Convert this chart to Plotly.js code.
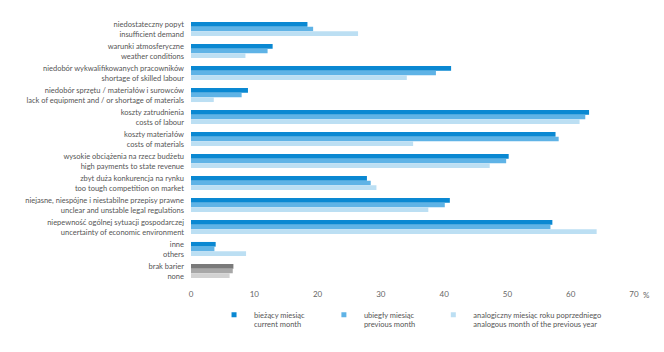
<!DOCTYPE html>
<html><head><meta charset="utf-8">
<script src="https://cdn.plot.ly/plotly-3.0.1.min.js"></script>
<style>html,body{margin:0;padding:0;background:#fff;}#chart{width:664px;height:352px;}</style>
</head><body><div id="chart"></div>
<script>
const categories = [
  "niedostateczny popyt<br>insufficient demand",
  "warunki atmosferyczne<br>weather conditions",
  "niedobór wykwalifikowanych pracowników<br>shortage of skilled labour",
  "niedobór sprzętu / materiałów i surowców<br>lack of equipment and / or shortage of materials",
  "koszty zatrudnienia<br>costs of labour",
  "koszty materiałów<br>costs of materials",
  "wysokie obciążenia na rzecz budżetu<br>high payments to state revenue",
  "zbyt duża konkurencja na rynku<br>too tough competition on market",
  "niejasne, niespójne i niestabilne przepisy prawne<br>unclear and unstable legal regulations",
  "niepewność ogólnej sytuacji gospodarczej<br>uncertainty of economic environment",
  "inne<br>others",
  "brak barier<br>none"
];
const currentMonth  = [18.4, 12.9, 41.1, 9.0, 62.9, 57.6, 50.2, 27.8, 40.9, 57.1, 3.9, 6.7];
const previousMonth = [19.3, 12.1, 38.7, 8.0, 62.3, 58.1, 49.8, 28.4, 40.1, 56.8, 3.7, 6.6];
const previousYear  = [26.4, 8.6, 34.1, 3.6, 61.4, 35.1, 47.2, 29.3, 37.5, 64.1, 8.7, 6.1];
const seriesNames = [
  "bieżący miesiąc<br>current month",
  "ubiegły miesiąc<br>previous month",
  "analogiczny miesiąc roku poprzedniego<br>analogous month of the previous year"
];
const tickValues = [0, 10, 20, 30, 40, 50, 60, 70];

const blues = ["#0a88d2", "#5fb3e6", "#bcdff3"];
const greys = ["#7a7a7a", "#a8a8a8", "#d2d2d2"];
const seriesData = [currentMonth, previousMonth, previousYear];
const legendIds = ["legend", "legend2", "legend3"];
const legendX = [0.052, 0.300, 0.547];

const traces = seriesData.map((vals, i) => ({
  type: "bar", orientation: "h",
  x: vals, y: categories, name: seriesNames[i],
  marker: { color: categories.map((c, j) => j === categories.length - 1 ? greys[i] : blues[i]) },
  showlegend: false, hoverinfo: "x+y"
}));
seriesNames.forEach((n, i) => traces.push({
  type: "scatter", mode: "markers", x: [null], y: [null], name: n,
  legend: legendIds[i],
  marker: { symbol: "square", size: 5, color: blues[i] }, showlegend: true
}));

const legendBase = {
  orientation: "h", xanchor: "left", y: -0.081, yanchor: "top",
  itemwidth: 30, font: { size: 7.5, color: "#555" }, valign: "top",
  bgcolor: "rgba(0,0,0,0)"
};

const layout = {
  width: 664, height: 352,
  margin: { l: 191, r: 30, t: 18, b: 70 },
  paper_bgcolor: "#fff", plot_bgcolor: "#fff",
  font: { family: "Lato, 'Open Sans', sans-serif", size: 7.5, color: "#555" },
  barmode: "group", bargap: 0.36, bargroupgap: 0,
  showlegend: true,
  xaxis: {
    range: [0, 70], tickvals: tickValues, showgrid: false, zeroline: false,
    showline: false, ticks: "", ticklabelstandoff: 6,
    tickfont: { size: 8, color: "#666" }, fixedrange: true
  },
  yaxis: {
    autorange: "reversed", showgrid: false, zeroline: false, showline: false,
    ticks: "", ticklabelstandoff: 6, tickfont: { size: 7.5, color: "#555" }
  },
  legend:  Object.assign({}, legendBase, { x: legendX[0] }),
  legend2: Object.assign({}, legendBase, { x: legendX[1] }),
  legend3: Object.assign({}, legendBase, { x: legendX[2] }),
  annotations: [{
    text: "%", xref: "paper", yref: "paper", x: 1.015, y: 0, yanchor: "top", xanchor: "left",
    yshift: -6, showarrow: false, font: { size: 8, color: "#666" }
  }]
};
Plotly.newPlot("chart", traces, layout, { displayModeBar: false, staticPlot: true });
</script></body></html>
